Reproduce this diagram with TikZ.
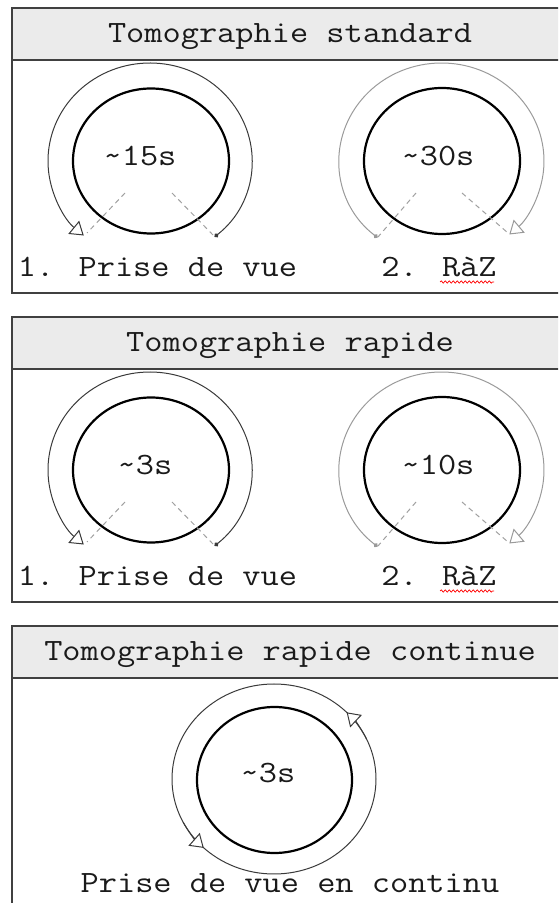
\documentclass[tikz,border=0pt]{standalone}
\usepackage{fontspec}
\usetikzlibrary{arrows.meta,decorations.pathmorphing,calc}
\definecolor{txtc}{HTML}{1A1A1A}
\definecolor{framec}{HTML}{404040}
\definecolor{hdrc}{HTML}{EBEBEB}
\definecolor{dashc}{HTML}{A0A0A0}
\definecolor{darkc}{HTML}{3A3A3A}
\definecolor{lightc}{HTML}{9A9A9A}
\newcommand{\wid}[1]{\scalebox{1.14}[1]{#1}}
\begin{document}
\begin{tikzpicture}[x=1pt,y=1pt,
  txt/.style={font=\ttfamily\fontsize{31}{36}\selectfont, text=txtc, inner sep=0pt, anchor=base},
  frame/.style={draw=framec, line width=1.4pt},
  hdr/.style={fill=hdrc},
  innerc/.style={draw=black, line width=2.2pt},
  radial/.style={draw=dashc, line width=1pt, dash pattern=on 5pt off 4pt},
  motion/.style={draw=darkc, line width=1pt, arrows={{Circle[length=4.5pt]}-{Triangle[length=13pt,width=17pt,fill=white,line width=1pt]}}},
  reset/.style={motion, draw=lightc},
  cyc/.style={draw=darkc, line width=1pt},
  cyctip/.style={draw=darkc, line width=1pt, arrows={-{Triangle[length=13pt,width=17pt,fill=white,line width=1pt]}}},
  spell/.style={draw=red, line width=0.7pt, decorate, decoration={snake, amplitude=1.1pt, segment length=4pt}}
]
\useasboundingbox (0,0) rectangle (558,903);
\clip (0,0) rectangle (558,903);

% ---------- Panel 1 ----------
\fill[hdr] (12,843) rectangle (570,895);
\draw[frame] (12,610) rectangle (570,895);
\draw[frame] (12,843) -- (570,843);
\node[txt] (t1) at (290,860) {\wid{Tomographie standard}};

\coordinate (c1a) at (150,742);
\coordinate (c1b) at (441.5,742);
\draw[innerc] (151,742) ellipse [x radius=78pt, y radius=72.5pt];
\draw[innerc] (442,742) ellipse [x radius=78pt, y radius=73pt];
\draw[radial] (125,710) -- (87,670);
\draw[radial] (172,710) -- (213,668);
\draw[radial] (416,710) -- (378,666);
\draw[radial] (462,710) -- (508,670);
\draw[motion] (c1a) ++(-50.7:102pt and 98pt) arc[start angle=-50.7, end angle=229.5, x radius=102pt, y radius=98pt];
\draw[reset] (c1b) ++(231.4:102.5pt and 98pt) arc[start angle=231.4, end angle=-48.6, x radius=102.5pt, y radius=98pt];
\node[txt] (d1a) at (140,737) {\wid{\char`\~15s}};
\node[txt] (d1b) at (438,737) {\wid{\char`\~30s}};
\node[txt] (l1a) at (157.5,626) {\wid{1. Prise de vue}};
\node[txt] (l1b) at (439,626) {\wid{2. RàZ}};
\draw[spell] ($(l1b.base)+(1,-5)$) -- ($(l1b.base)+(55,-5)$);

% ---------- Panel 2 ----------
\fill[hdr] (12,534) rectangle (570,586);
\draw[frame] (12,301) rectangle (570,586);
\draw[frame] (12,534) -- (570,534);
\node[txt] (t2) at (290,551) {\wid{Tomographie rapide}};

\coordinate (c2a) at (150,433);
\coordinate (c2b) at (441.5,433);
\draw[innerc] (151,433) ellipse [x radius=78pt, y radius=72.5pt];
\draw[innerc] (442,433) ellipse [x radius=78pt, y radius=73pt];
\draw[radial] (125,401) -- (87,361);
\draw[radial] (172,401) -- (213,359);
\draw[radial] (416,401) -- (378,357);
\draw[radial] (462,401) -- (508,361);
\draw[motion] (c2a) ++(-50.7:102pt and 98pt) arc[start angle=-50.7, end angle=229.5, x radius=102pt, y radius=98pt];
\draw[reset] (c2b) ++(231.4:102.5pt and 98pt) arc[start angle=231.4, end angle=-48.6, x radius=102.5pt, y radius=98pt];
\node[txt] (d2a) at (145,428) {\wid{\char`\~3s}};
\node[txt] (d2b) at (438,428) {\wid{\char`\~10s}};
\node[txt] (l2a) at (157.5,317) {\wid{1. Prise de vue}};
\node[txt] (l2b) at (439,317) {\wid{2. RàZ}};
\draw[spell] ($(l2b.base)+(1,-5)$) -- ($(l2b.base)+(55,-5)$);

% ---------- Panel 3 ----------
\fill[hdr] (12,225) rectangle (570,277);
\draw[frame] (12,-20) rectangle (570,277);
\draw[frame] (12,225) -- (570,225);
\node[txt] (t3) at (290,242) {\wid{Tomographie rapide continue}};

\coordinate (c3) at (274,124);
\draw[innerc] (274.5,123) ellipse [x radius=77.5pt, y radius=73pt];
\draw[cyc] (c3) ellipse [x radius=102pt, y radius=95pt];
\draw[cyctip] (c3) ++(25:102pt and 95pt) arc[start angle=25, end angle=44.6, x radius=102pt, y radius=95pt];
\draw[cyctip] (c3) ++(207:102pt and 95pt) arc[start angle=207, end angle=226.5, x radius=102pt, y radius=95pt];
\node[txt] (d3) at (268,120) {\wid{\char`\~3s}};
\node[txt] (l3) at (290,10) {\wid{Prise de vue en continu}};
\end{tikzpicture}
\end{document}
